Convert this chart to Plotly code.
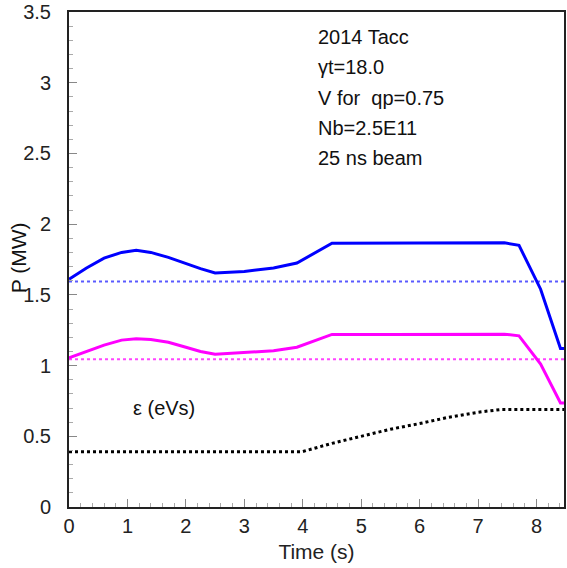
import plotly.graph_objects as go

# Data
t_p = [0, 0.3, 0.6, 0.9, 1.15, 1.4, 1.7, 2.0, 2.25, 2.5, 3.0, 3.5, 3.9, 4.5, 5.5, 6.5, 7.45, 7.7, 8.07, 8.41, 8.47]
p_blue = [1.61, 1.69, 1.76, 1.80, 1.815, 1.80, 1.765, 1.72, 1.685, 1.655, 1.665, 1.69, 1.725, 1.865, 1.865, 1.868, 1.868, 1.85, 1.54, 1.12, 1.12]
p_pink = [1.055, 1.10, 1.145, 1.18, 1.19, 1.185, 1.165, 1.13, 1.10, 1.08, 1.09, 1.105, 1.13, 1.22, 1.22, 1.222, 1.222, 1.21, 1.01, 0.735, 0.735]
t_eps = [0, 3.98, 4.5, 5.0, 5.5, 6.0, 6.5, 7.0, 7.4, 8.47]
eps = [0.39, 0.39, 0.45, 0.50, 0.55, 0.59, 0.635, 0.67, 0.69, 0.69]
ref_t = [0, 8.47]
ref_blue = [1.595, 1.595]
ref_pink = [1.045, 1.045]
info_lines = ["2014 Tacc", "γt=18.0", "V for  qp=0.75", "Nb=2.5E11", "25 ns beam"]

FONT = "Liberation Sans, Arial, sans-serif"
W, H = 567, 568
ML, MR, MT, MB = 69, 1, 10, 61
pw, ph = W - ML - MR, H - MT - MB


def px(x):
    return (x - ML) / pw


def py(y):
    return 1 - (y - MT) / ph


fig = go.Figure()
fig.add_trace(go.Scatter(x=ref_t, y=ref_blue, mode="lines",
                         line=dict(color="#5a5aff", width=2, dash="dot"), showlegend=False))
fig.add_trace(go.Scatter(x=ref_t, y=ref_pink, mode="lines",
                         line=dict(color="#ff44ff", width=2, dash="dot"), showlegend=False))
fig.add_trace(go.Scatter(x=t_p, y=p_blue, mode="lines",
                         line=dict(color="#0000ff", width=3), showlegend=False))
fig.add_trace(go.Scatter(x=t_p, y=p_pink, mode="lines",
                         line=dict(color="#ff00ff", width=3), showlegend=False))
fig.add_trace(go.Scatter(x=t_eps, y=eps, mode="lines",
                         line=dict(color="#000000", width=3, dash="dot"), showlegend=False))

for i, s in enumerate(info_lines):
    fig.add_annotation(x=px(317), y=py(35 + 30.5 * i), xref="paper", yref="paper", text=s,
                       showarrow=False, xanchor="left", yanchor="middle",
                       font=dict(family=FONT, size=20, color="#111"))

fig.add_annotation(x=px(131), y=py(408), xref="paper", yref="paper",
                   text="ε (eVs)", showarrow=False, xanchor="left", yanchor="middle",
                   font=dict(family=FONT, size=20, color="#111"))
fig.add_annotation(x=px(18), y=py(257), xref="paper", yref="paper",
                   text="P (MW)", showarrow=False, textangle=-90, xanchor="center", yanchor="middle",
                   font=dict(family=FONT, size=21, color="#111"))

fig.update_layout(
    width=W, height=H, margin=dict(l=ML, r=MR, t=MT, b=MB),
    paper_bgcolor="white", plot_bgcolor="white",
    font=dict(family=FONT, size=20, color="#222"),
    xaxis=dict(range=[0, 8.47], tickmode="linear", tick0=0, dtick=1,
               ticks="inside", ticklen=8, tickwidth=1, tickcolor="#888",
               minor=dict(ticks="inside", ticklen=4, dtick=0.2, tickcolor="#aaa"),
               showgrid=False, zeroline=False, showline=True, linecolor="#222", linewidth=2,
               mirror=True, ticklabelstandoff=0, ticklabeloverflow="allow",
               title=dict(text="Time (s)", font=dict(size=21), standoff=8)),
    yaxis=dict(range=[0, 3.5], tickmode="linear", tick0=0, dtick=0.5,
               ticks="inside", ticklen=8, tickwidth=1, tickcolor="#888",
               minor=dict(ticks="inside", ticklen=4, dtick=0.1, tickcolor="#aaa"),
               showgrid=False, zeroline=False, showline=True, linecolor="#222", linewidth=2,
               mirror=True, ticklabelstandoff=12, ticklabeloverflow="allow"),
)

fig.write_html("out.html")
